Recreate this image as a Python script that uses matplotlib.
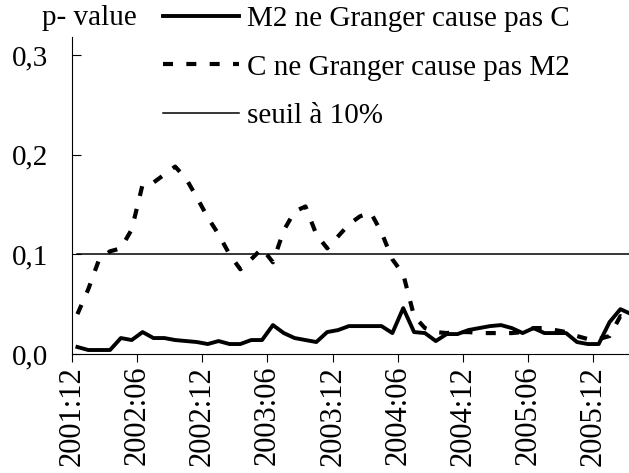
import matplotlib
matplotlib.use('Agg')
import matplotlib.pyplot as plt
import numpy as np

plt.rcParams['font.family'] = ['Liberation Serif', 'DejaVu Serif']

# monthly points, 2001:12 -> 2006:03
months = np.arange(52)
tick_labels = ['2001:12', '2002:06', '2002:12', '2003:06', '2003:12',
               '2004:06', '2004:12', '2005:06', '2005:12']

m2_to_c = [0.007, 0.004, 0.004, 0.004, 0.016, 0.014, 0.022, 0.016, 0.016, 0.014,
           0.013, 0.012, 0.010, 0.013, 0.010, 0.010, 0.014, 0.014, 0.029, 0.021,
           0.016, 0.014, 0.012, 0.022, 0.024, 0.028, 0.028, 0.028, 0.028, 0.021,
           0.046, 0.022, 0.021, 0.013, 0.020, 0.020, 0.024, 0.026, 0.028, 0.029,
           0.026, 0.021, 0.026, 0.021, 0.021, 0.021, 0.012, 0.010, 0.010, 0.032,
           0.045, 0.040]

c_to_m2 = [0.040, 0.065, 0.095, 0.103, 0.106, 0.125, 0.170, 0.172, 0.180, 0.188,
           0.176, 0.157, 0.137, 0.120, 0.100, 0.085, 0.095, 0.106, 0.092, 0.124,
           0.143, 0.148, 0.120, 0.106, 0.118, 0.130, 0.138, 0.142, 0.122, 0.095,
           0.080, 0.038, 0.026, 0.022, 0.021, 0.022, 0.022, 0.021, 0.021, 0.021,
           0.021, 0.022, 0.026, 0.026, 0.024, 0.022, 0.018, 0.015, 0.015, 0.018,
           0.038, 0.035]

seuil = [0.1] * 52

W, H = 629, 473
fig = plt.figure(figsize=(W / 100, H / 100), dpi=100)
ax = fig.add_axes([72 / W, (H - 354) / H, 564.7 / W, 317 / H])

l1, = ax.plot(months, m2_to_c, color='black', lw=2.8, solid_joinstyle='round',
              label='M2 ne Granger cause pas C')
l2, = ax.plot(months, c_to_m2, color='black', lw=3.0, linestyle=(0, (2.4, 3.2)),
              label='C ne Granger cause pas M2')
l3, = ax.plot(months, seuil, color='black', lw=1.1, label='seuil à 10%')

ax.set_xlim(-0.5, 51.5)
ax.set_ylim(0, 0.318)
ax.set_xticks(np.arange(-0.5, 51, 6))
ax.set_xticklabels(tick_labels)
ax.set_yticks([0, 0.1, 0.2, 0.3])
ax.set_yticklabels(['0,0', '0,1', '0,2', '0,3'])

ax.tick_params(axis='x', direction='out', length=5.5, width=0.8, pad=3,
               labelrotation=90, labelsize=22)
ax.tick_params(axis='y', direction='in', length=6.5, width=0.8, pad=17,
               labelsize=21)
for s in ['top', 'right']:
    ax.spines[s].set_visible(False)
for s in ['left', 'bottom']:
    ax.spines[s].set_linewidth(0.8)

fig.text(42 / W, 1 - 25 / H, 'p- value', fontsize=21, ha='left', va='baseline')

fig.legend(handles=[l1, l2, l3], loc='upper left',
           bbox_to_anchor=(163 / W, 1 - 6 / H), frameon=False, fontsize=21,
           handlelength=2.6, handletextpad=0.28, labelspacing=0.75,
           borderpad=0, borderaxespad=0)

fig.savefig('out.png', dpi=100)
